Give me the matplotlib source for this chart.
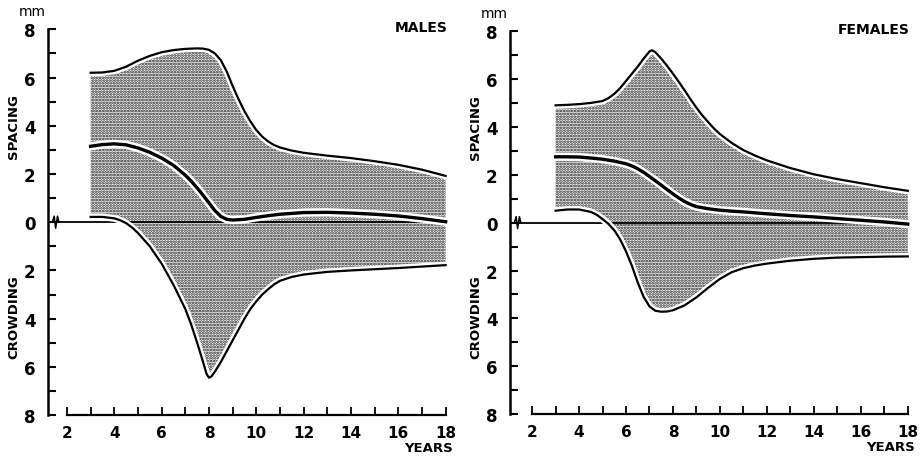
import numpy as np
import matplotlib.pyplot as plt
import matplotlib.patheffects as pe

plt.rcParams['font.family'] = ['DejaVu Sans']
plt.rcParams['hatch.linewidth'] = 1.3

# --- data (mm; spacing positive, crowding negative) ---
# males
m_up_age = [3, 3.5, 4, 4.5, 5, 5.5, 6, 6.5, 7, 7.5, 7.75, 8, 8.25, 8.5, 8.75, 9,
            9.25, 9.5, 9.75, 10, 10.25, 10.5, 10.75, 11, 11.5, 12, 13, 14, 15,
            16, 17, 18]
m_up = [6.2, 6.21, 6.28, 6.45, 6.7, 6.9, 7.05, 7.14, 7.19, 7.21, 7.2, 7.15, 7.0,
        6.72, 6.25, 5.65, 5.1, 4.6, 4.18, 3.82, 3.55, 3.35, 3.2, 3.1, 2.97,
        2.88, 2.76, 2.66, 2.53, 2.38, 2.18, 1.92]
m_med_age = [3, 3.5, 4, 4.5, 5, 5.5, 6, 6.5, 7, 7.25, 7.5, 7.75, 8, 8.25, 8.5,
             8.75, 9, 9.5, 10, 10.5, 11, 12, 13, 14, 15, 16, 17, 18]
m_med = [3.15, 3.22, 3.25, 3.21, 3.08, 2.9, 2.66, 2.36, 1.95, 1.7, 1.42, 1.12,
         0.8, 0.48, 0.24, 0.12, 0.09, 0.12, 0.2, 0.27, 0.33, 0.4, 0.41, 0.38,
         0.33, 0.26, 0.15, 0.02]
m_low_age = [3, 3.5, 4, 4.25, 4.5, 4.75, 5, 5.5, 6, 6.5, 7, 7.25, 7.5, 7.75,
             7.9, 8, 8.1, 8.25, 8.5, 8.75, 9, 9.25, 9.5, 9.75, 10, 10.25, 10.5,
             10.75, 11, 11.5, 12, 13, 14, 15, 16, 17, 18]
m_low = [0.22, 0.22, 0.16, 0.08, -0.04, -0.22, -0.45, -1.0, -1.72, -2.6, -3.6,
         -4.25, -5.0, -5.8, -6.3, -6.45, -6.4, -6.2, -5.8, -5.35, -4.9, -4.45,
         -4.0, -3.6, -3.28, -3.0, -2.78, -2.58, -2.43, -2.27, -2.17, -2.06,
         -2.0, -1.95, -1.9, -1.84, -1.78]

# females
f_up_age = [3, 3.5, 4, 4.5, 5, 5.25, 5.5, 5.75, 6, 6.25, 6.5, 6.75, 7, 7.1,
            7.25, 7.5, 7.75, 8, 8.25, 8.5, 8.75, 9, 9.25, 9.5, 9.75, 10, 10.5,
            11, 11.5, 12, 13, 14, 15, 16, 17, 18]
f_up = [4.9, 4.92, 4.95, 5.0, 5.08, 5.2, 5.38, 5.62, 5.92, 6.22, 6.52, 6.85,
        7.15, 7.2, 7.12, 6.85, 6.55, 6.22, 5.88, 5.52, 5.15, 4.8, 4.48, 4.2,
        3.93, 3.7, 3.33, 3.03, 2.8, 2.6, 2.28, 2.02, 1.82, 1.65, 1.48, 1.33]
f_med_age = [3, 3.5, 4, 4.5, 5, 5.5, 6, 6.25, 6.5, 6.75, 7, 7.25, 7.5, 7.75, 8,
             8.25, 8.5, 8.75, 9, 9.5, 10, 10.5, 11, 12, 13, 14, 15, 16, 17, 18]
f_med = [2.75, 2.75, 2.74, 2.7, 2.65, 2.57, 2.46, 2.37, 2.25, 2.1, 1.93, 1.75,
         1.57, 1.38, 1.2, 1.03, 0.88, 0.76, 0.67, 0.58, 0.52, 0.48, 0.45, 0.37,
         0.3, 0.24, 0.17, 0.1, 0.03, -0.06]
f_low_age = [3, 3.5, 4, 4.5, 4.75, 5, 5.25, 5.5, 5.75, 6, 6.25, 6.5, 6.75, 7,
             7.25, 7.5, 7.75, 8, 8.5, 9, 9.5, 10, 10.5, 11, 11.5, 12, 13, 14,
             15, 16, 17, 18]
f_low = [0.5, 0.55, 0.55, 0.45, 0.33, 0.15, -0.05, -0.32, -0.7, -1.2, -1.8,
         -2.5, -3.1, -3.5, -3.68, -3.72, -3.71, -3.66, -3.45, -3.12, -2.72,
         -2.35, -2.07, -1.9, -1.79, -1.71, -1.59, -1.51, -1.46, -1.44, -1.42,
         -1.41]

panels = [
    ('MALES', (m_up_age, m_up), (m_med_age, m_med), (m_low_age, m_low),
     [0.052, 0.085, 0.438, 0.870], 1.2),
    ('FEMALES', (f_up_age, f_up), (f_med_age, f_med), (f_low_age, f_low),
     [0.552, 0.087, 0.438, 0.864], 1.06),
]

fig = plt.figure(figsize=(9.24, 4.6), dpi=100)

halo = [pe.Stroke(linewidth=5, foreground='white'), pe.Normal()]
halo_thick = [pe.Stroke(linewidth=6, foreground='white'), pe.Normal()]

for title, upper, median, lower, rect, x0 in panels:
    ax = fig.add_axes(rect)

    # stippled band between the outer curves
    band_x = np.r_[upper[0], lower[0][::-1]]
    band_y = np.r_[upper[1], lower[1][::-1]]
    ax.fill(band_x, band_y, facecolor='white', edgecolor='#1a1a1a',
            hatch='......', linewidth=0, zorder=1)

    # zero line with break mark near the axis
    ax.plot([x0, 18], [0, 0], color='black', lw=1.3, zorder=2)
    zx = x0 + np.array([0.18, 0.26, 0.32, 0.4, 0.46])
    ax.plot(zx, [0, 0.25, -0.25, 0.25, 0], color='black', lw=1.1, zorder=3)

    ax.plot(*upper, color='black', lw=1.6, path_effects=halo, zorder=4)
    ax.plot(*lower, color='black', lw=1.6, path_effects=halo, zorder=4)
    ax.plot(*median, color='black', lw=2.4, path_effects=halo_thick, zorder=5)

    ax.set_xlim(x0, 18.3)
    ax.set_ylim(-8.2, 8.4)

    for s in ['top', 'right']:
        ax.spines[s].set_visible(False)
    ax.spines['left'].set_bounds(-8, 8)
    ax.spines['left'].set_linewidth(1.8)
    ax.spines['bottom'].set_position(('data', -8))
    ax.spines['bottom'].set_bounds(2, 18)
    ax.spines['bottom'].set_linewidth(1.6)

    ax.set_yticks(np.arange(-8, 9, 1))
    ax.set_yticklabels([str(abs(v)) if v % 2 == 0 else '' for v in range(-8, 9)])
    ax.set_xticks(np.arange(2, 19, 1))
    ax.set_xticklabels([str(v) if v % 2 == 0 else '' for v in range(2, 19)])
    ax.tick_params(axis='y', direction='in', length=6, width=1.5, pad=9,
                   labelsize=12)
    ax.tick_params(axis='x', direction='in', length=6, width=1.3, pad=7,
                   labelsize=11)
    for lab in ax.get_xticklabels() + ax.get_yticklabels():
        lab.set_fontweight('bold')

    ax.text(18.1, 8.1, title, ha='right', va='center', fontsize=10,
            fontweight='bold')
    ax.text(-0.04, 1.005, 'mm', transform=ax.transAxes, ha='center',
            va='bottom', fontsize=10)
    ax.text(1.0, -0.07, 'YEARS', transform=ax.transAxes, ha='right',
            va='center', fontsize=9.5, fontweight='bold')
    ax.text(-0.085, 4.0, 'SPACING', transform=ax.get_yaxis_transform(),
            rotation=90, ha='center', va='center', fontsize=9.5,
            fontweight='bold')
    ax.text(-0.085, -3.9, 'CROWDING', transform=ax.get_yaxis_transform(),
            rotation=90, ha='center', va='center', fontsize=9.5,
            fontweight='bold')

fig.savefig('out.png', dpi=100)
